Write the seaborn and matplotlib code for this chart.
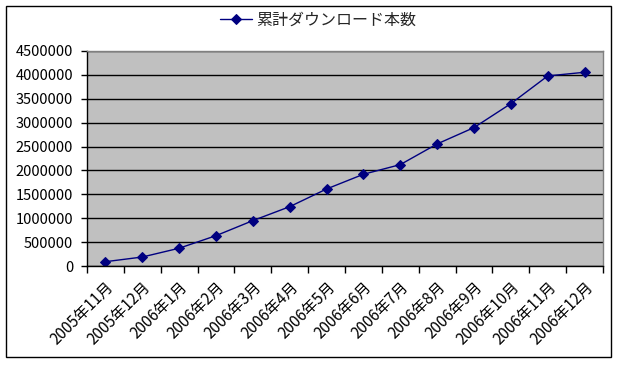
import matplotlib
matplotlib.use("Agg")
import matplotlib.pyplot as plt
import seaborn as sns
import pandas as pd
import numpy as np
from matplotlib.patches import Rectangle

months = ["2005年11月", "2005年12月", "2006年1月", "2006年2月", "2006年3月", "2006年4月",
          "2006年5月", "2006年6月", "2006年7月", "2006年8月", "2006年9月", "2006年10月",
          "2006年11月", "2006年12月"]
downloads = [90000, 188000, 372000, 635000, 950000, 1242000, 1612000, 1920000,
             2122000, 2555000, 2897000, 3398000, 3978000, 4055000]
series_name = "累計ダウンロード本数"
yticks = [0, 500000, 1000000, 1500000, 2000000, 2500000, 3000000, 3500000, 4000000, 4500000]

sns.set_theme(style="white")
plt.rcParams['font.family'] = ['Noto Sans CJK JP', 'DejaVu Sans']

df = pd.DataFrame({"pos": np.arange(len(months)), "value": downloads, "series": series_name})

fig = plt.figure(figsize=(6.18, 3.65), dpi=100)
ax = fig.add_axes([87/618, 1-266/365, (603-87)/618, (266-51)/365])
ax.set_facecolor("#C0C0C0")

sns.lineplot(data=df, x="pos", y="value", hue="series", palette=["#000080"],
             marker="D", markersize=5, markeredgecolor="#000080", linewidth=1, ax=ax)

ax.set_xlim(-0.5, len(months) - 0.5)
ax.set_ylim(0, 4500000)
ax.set_yticks(yticks)
ax.set_yticklabels([str(v) for v in yticks], fontsize=10.5, color="black")
ax.set_xticks(np.arange(len(months)))
ax.set_xticklabels(months, rotation=45, ha="right", rotation_mode="anchor", fontsize=11, color="black")
ax.set_xticks(np.arange(-0.5, len(months), 1), minor=True)
ax.tick_params(axis="x", which="major", length=0, pad=9)
ax.tick_params(axis="x", which="minor", length=5, width=1, color="black", direction="out", bottom=True)
ax.tick_params(axis="y", length=4, width=1, color="black", direction="out", left=True, pad=6)
ax.yaxis.grid(True, color="black", linewidth=1)
ax.set_axisbelow(True)
ax.set_xlabel("")
ax.set_ylabel("")
for side in ["top", "right"]:
    ax.spines[side].set_color("#808080")
    ax.spines[side].set_linewidth(1)
for side in ["left", "bottom"]:
    ax.spines[side].set_color("black")
    ax.spines[side].set_linewidth(1)

handles, labels = ax.get_legend_handles_labels()
ax.get_legend().remove()
fig.legend(handles, labels, loc="center", bbox_to_anchor=(318/618, 1-20/365), frameon=False,
           fontsize=11.5, handlelength=2, handletextpad=0.3)

fig.patches.append(Rectangle((6/618, 1-357/365), (611-6)/618, (357-6)/365, transform=fig.transFigure,
                             fill=False, edgecolor="black", linewidth=1))

fig.savefig("out.png", dpi=100, facecolor="white")
